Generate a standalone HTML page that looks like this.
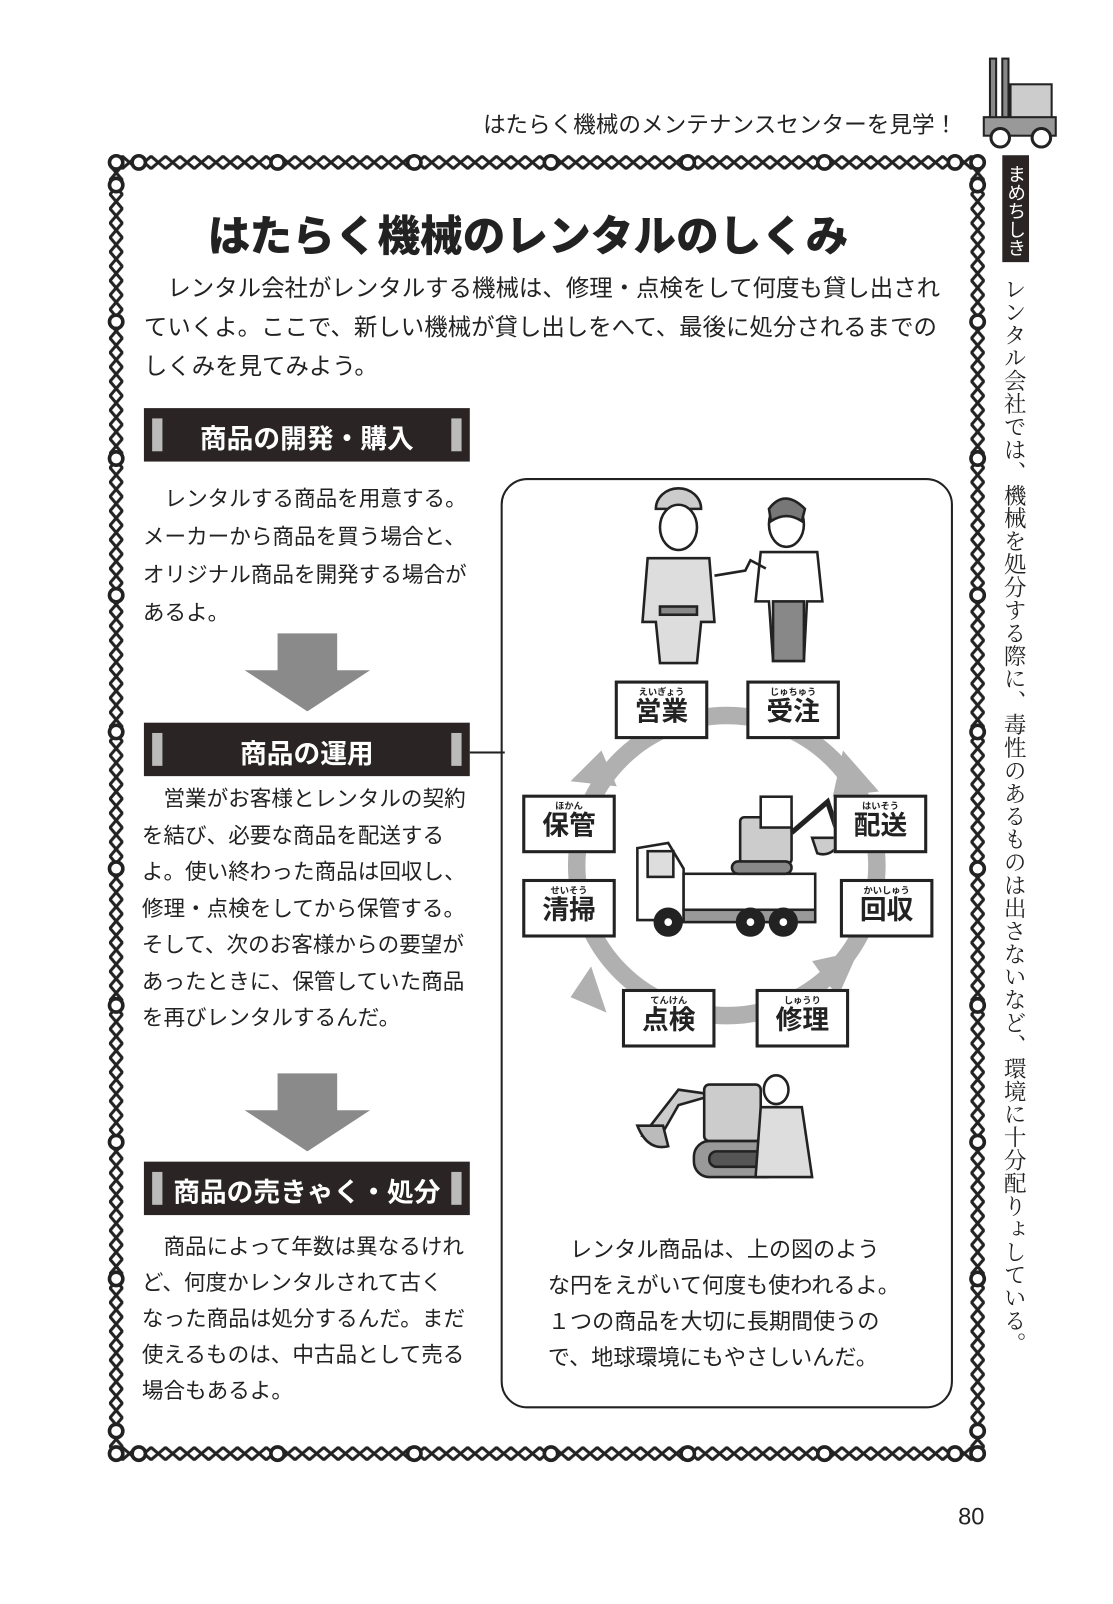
<!DOCTYPE html>
<html><head><meta charset="utf-8"><style>
html,body{margin:0;padding:0;background:#fff}
body{width:1113px;height:1602px;position:relative;overflow:hidden;font-family:"Liberation Sans","Noto Sans CJK JP",sans-serif;color:#222}
#w{position:absolute;left:0;top:0;width:1083px;height:1560px;transform:scale(1.028);transform-origin:0 0}
.t{position:absolute;white-space:nowrap}
.bar{position:absolute;left:140px;width:317px;height:52px;background:#2a2424}
.bar i{position:absolute;top:10px;width:10px;height:32px;background:#bbb}
.bar span{position:absolute;left:0;right:0;top:10px;text-align:center;color:#fff;font-weight:bold;font-size:26px}
.bx{position:absolute;width:88px;height:54px;border:3px solid #222;background:#fff;box-sizing:border-box;text-align:center;font-weight:bold;font-size:26px;line-height:26px}
.bx small{display:block;font-size:9px;line-height:12px;font-weight:bold;margin-top:2px}
</style></head><body><div id="w">

<div class="t" style="left:470px;top:104px;font-size:22px">はたらく機械のメンテナンスセンターを見学！</div>
<svg style="position:absolute;left:945px;top:52px" width="90" height="95">
 <rect x="18" y="5" width="6" height="70" fill="#888" stroke="#222" stroke-width="2"/>
 <rect x="30" y="5" width="6" height="70" fill="#888" stroke="#222" stroke-width="2"/>
 <rect x="38" y="30" width="40" height="38" fill="#ccc" stroke="#222" stroke-width="2"/>
 <rect x="12" y="62" width="70" height="18" fill="#999" stroke="#222" stroke-width="2"/>
 <circle cx="28" cy="82" r="9" fill="#fff" stroke="#222" stroke-width="3"/>
 <circle cx="68" cy="82" r="9" fill="#fff" stroke="#222" stroke-width="3"/>
</svg>

<svg style="position:absolute;left:0;top:0" width="1083" height="1560">
 <defs>
  <pattern id="ph" x="0" y="151" width="14" height="14" patternUnits="userSpaceOnUse">
   <path d="M0,7 L7,1 L14,7 L7,13 Z" fill="none" stroke="#222" stroke-width="3"/>
  </pattern>
  <pattern id="ph2" x="0" y="1407" width="14" height="14" patternUnits="userSpaceOnUse">
   <path d="M0,7 L7,1 L14,7 L7,13 Z" fill="none" stroke="#222" stroke-width="3"/>
  </pattern>
  <pattern id="pv" x="106" y="0" width="14" height="14" patternUnits="userSpaceOnUse">
   <path d="M7,0 L13,7 L7,14 L1,7 Z" fill="none" stroke="#222" stroke-width="3"/>
  </pattern>
  <pattern id="pv2" x="944" y="0" width="14" height="14" patternUnits="userSpaceOnUse">
   <path d="M7,0 L13,7 L7,14 L1,7 Z" fill="none" stroke="#222" stroke-width="3"/>
  </pattern>
 </defs>
 <rect x="113" y="151" width="838" height="14" fill="url(#ph)"/>
 <rect x="113" y="1407" width="838" height="14" fill="url(#ph2)"/>
 <rect x="106" y="158" width="14" height="1256" fill="url(#pv)"/>
 <rect x="944" y="158" width="14" height="1256" fill="url(#pv2)"/>
 <g fill="#fff" stroke="#222" stroke-width="3.5">
  <circle cx="113" cy="158" r="6.5"/><circle cx="135" cy="158" r="6.5"/><circle cx="270" cy="158" r="6.5"/><circle cx="403" cy="158" r="6.5"/><circle cx="536" cy="158" r="6.5"/><circle cx="669" cy="158" r="6.5"/><circle cx="802" cy="158" r="6.5"/><circle cx="929" cy="158" r="6.5"/><circle cx="951" cy="158" r="6.5"/>
  <circle cx="113" cy="1414" r="6.5"/><circle cx="135" cy="1414" r="6.5"/><circle cx="270" cy="1414" r="6.5"/><circle cx="403" cy="1414" r="6.5"/><circle cx="536" cy="1414" r="6.5"/><circle cx="669" cy="1414" r="6.5"/><circle cx="802" cy="1414" r="6.5"/><circle cx="929" cy="1414" r="6.5"/><circle cx="951" cy="1414" r="6.5"/>
  <circle cx="113" cy="180" r="6.5"/><circle cx="113" cy="313" r="6.5"/><circle cx="113" cy="446" r="6.5"/><circle cx="113" cy="579" r="6.5"/><circle cx="113" cy="712" r="6.5"/><circle cx="113" cy="845" r="6.5"/><circle cx="113" cy="978" r="6.5"/><circle cx="113" cy="1111" r="6.5"/><circle cx="113" cy="1244" r="6.5"/><circle cx="113" cy="1392" r="6.5"/>
  <circle cx="951" cy="180" r="6.5"/><circle cx="951" cy="313" r="6.5"/><circle cx="951" cy="446" r="6.5"/><circle cx="951" cy="579" r="6.5"/><circle cx="951" cy="712" r="6.5"/><circle cx="951" cy="845" r="6.5"/><circle cx="951" cy="978" r="6.5"/><circle cx="951" cy="1111" r="6.5"/><circle cx="951" cy="1244" r="6.5"/><circle cx="951" cy="1392" r="6.5"/>
 </g>
</svg>

<div style="position:absolute;left:975px;top:151px;width:26px;height:104px;background:#2a2424;color:#fff;writing-mode:vertical-rl;font-size:18px;line-height:26px;text-align:center;padding-top:4px;box-sizing:border-box">まめちしき</div>
<div style="position:absolute;left:974px;top:270px;writing-mode:vertical-rl;font-family:'Liberation Serif','Noto Serif CJK SC',serif;font-size:22px;line-height:24px;letter-spacing:0.3px">レンタル会社では、機械を処分する際に、毒性のあるものは出さないなど、環境に十分配りょしている。</div>

<div class="t" style="left:202px;top:196px;font-size:41.5px;font-weight:900">はたらく機械のレンタルのしくみ</div>
<div class="t" style="left:140px;top:261px;font-size:22.8px;line-height:38px">　レンタル会社がレンタルする機械は、修理・点検をして何度も貸し出され<br>ていくよ。ここで、新しい機械が貸し出しをへて、最後に処分されるまでの<br>しくみを見てみよう。</div>

<div class="bar" style="top:397px"><i style="left:8px"></i><i style="right:8px"></i><span>商品の開発・購入</span></div>
<div class="t" style="left:139px;top:467px;font-size:21px;line-height:37px">　レンタルする商品を用意する。<br>メーカーから商品を買う場合と、<br>オリジナル商品を開発する場合が<br>あるよ。</div>
<svg style="position:absolute;left:238px;top:616px" width="122" height="76"><polygon points="32,0 90,0 90,36 122,36 61,76 0,36 32,36" fill="#8a8a8a"/></svg>

<div class="bar" style="top:703px"><i style="left:8px"></i><i style="right:8px"></i><span>商品の運用</span></div>
<div style="position:absolute;left:457px;top:731px;width:34px;height:2px;background:#222"></div>
<div class="t" style="left:138px;top:760px;font-size:21px;line-height:35.5px">　営業がお客様とレンタルの契約<br>を結び、必要な商品を配送する<br>よ。使い終わった商品は回収し、<br>修理・点検をしてから保管する。<br>そして、次のお客様からの要望が<br>あったときに、保管していた商品<br>を再びレンタルするんだ。</div>
<svg style="position:absolute;left:238px;top:1044px" width="122" height="76"><polygon points="32,0 90,0 90,36 122,36 61,76 0,36 32,36" fill="#8a8a8a"/></svg>

<div class="bar" style="top:1130px"><i style="left:8px"></i><i style="right:8px"></i><span>商品の売きゃく・処分</span></div>
<div class="t" style="left:138px;top:1196px;font-size:21px;line-height:35px">　商品によって年数は異なるけれ<br>ど、何度かレンタルされて古く<br>なった商品は処分するんだ。まだ<br>使えるものは、中古品として売る<br>場合もあるよ。</div>

<div style="position:absolute;left:487px;top:465px;width:440px;height:905px;border:2.5px solid #222;border-radius:26px;box-sizing:border-box"></div>

<svg style="position:absolute;left:490px;top:465px" width="438" height="905">
 <g stroke="#222" stroke-width="2.5" fill="#fff">
  <path d="M148,30 a22,20 0 0,1 44,0 z" fill="#ccc"/>
  <ellipse cx="170" cy="48" rx="18" ry="22"/>
  <path d="M140,78 L200,78 L205,140 L192,140 L188,180 L152,180 L148,140 L135,140 Z" fill="#ddd"/>
  <rect x="152" y="125" width="36" height="8" fill="#888"/>
  <ellipse cx="275" cy="45" rx="17" ry="22"/>
  <path d="M258,30 q15,-20 35,0 l-3,12 q-15,-10 -30,0z" fill="#777"/>
  <path d="M250,72 L305,72 L310,120 L295,120 L292,178 L262,178 L258,120 L245,120 Z" fill="#fff"/>
  <rect x="262" y="120" width="30" height="58" fill="#888"/>
  <path d="M205,95 L235,90 L240,80 L255,88" fill="none"/>
 </g>
 <circle cx="217" cy="377" r="146" fill="none" stroke="#b0b0b0" stroke-width="17"/>
 <g fill="#b0b0b0">
  <polygon points="330,265 365,305 320,310"/>
  <polygon points="345,460 325,505 300,470"/>
  <polygon points="85,475 100,520 65,505"/>
  <polygon points="65,295 95,265 110,300"/>
 </g>
 <g stroke="#222" stroke-width="2.5">
  <path d="M130,360 L160,355 L175,380 L175,430 L130,430 Z" fill="#fff"/>
  <rect x="140" y="363" width="25" height="25" fill="#ddd"/>
  <rect x="175" y="385" width="128" height="35" fill="#fff"/>
  <rect x="175" y="420" width="128" height="12" fill="#999"/>
  <rect x="230" y="330" width="50" height="45" rx="4" fill="#ccc"/>
  <rect x="250" y="310" width="30" height="30" fill="#fff"/>
  <path d="M280,345 L315,315 L325,345" fill="none" stroke-width="5"/>
  <path d="M305,365 q15,5 25,-15 l-30,0 z" fill="#ccc"/>
  <rect x="222" y="373" width="58" height="12" rx="6" fill="#888"/>
  <circle cx="160" cy="432" r="13" fill="#222"/><circle cx="160" cy="432" r="5" fill="#fff"/>
  <circle cx="240" cy="432" r="13" fill="#222"/><circle cx="240" cy="432" r="5" fill="#fff"/>
  <circle cx="272" cy="432" r="13" fill="#222"/><circle cx="272" cy="432" r="5" fill="#fff"/>
 </g>
 <g stroke="#222" stroke-width="2.5">
  <path d="M135,640 L170,595 L205,600 L170,610 L150,645 Z" fill="#ccc"/>
  <path d="M130,630 q10,25 30,20 l-5,-20 z" fill="#bbb"/>
  <rect x="195" y="590" width="55" height="55" rx="5" fill="#ccc"/>
  <rect x="185" y="645" width="85" height="35" rx="15" fill="#999"/>
  <rect x="200" y="655" width="60" height="15" rx="7" fill="#555"/>
  <ellipse cx="265" cy="595" rx="12" ry="14" fill="#fff"/>
  <path d="M250,612 L290,612 L300,680 L245,680 Z" fill="#ddd"/>
 </g>
</svg>

<div class="bx" style="left:598px;top:662px;width:91px;height:57px"><small>えいぎょう</small>営業</div>
<div class="bx" style="left:726px;top:662px;width:91px;height:57px"><small>じゅちゅう</small>受注</div>
<div class="bx" style="left:811px;top:773px;width:91px;height:57px"><small>はいそう</small>配送</div>
<div class="bx" style="left:817px;top:855px;width:91px;height:57px"><small>かいしゅう</small>回収</div>
<div class="bx" style="left:735px;top:962px;width:91px;height:57px"><small>しゅうり</small>修理</div>
<div class="bx" style="left:605px;top:962px;width:91px;height:57px"><small>てんけん</small>点検</div>
<div class="bx" style="left:508px;top:855px;width:91px;height:57px"><small>せいそう</small>清掃</div>
<div class="bx" style="left:508px;top:773px;width:91px;height:57px"><small>ほかん</small>保管</div>

<div class="t" style="left:533px;top:1199px;font-size:21.5px;line-height:35px">　レンタル商品は、上の図のよう<br>な円をえがいて何度も使われるよ。<br>１つの商品を大切に長期間使うの<br>で、地球環境にもやさしいんだ。</div>

<div class="t" style="left:932px;top:1462px;font-size:23px">80</div>
</div></body></html>
